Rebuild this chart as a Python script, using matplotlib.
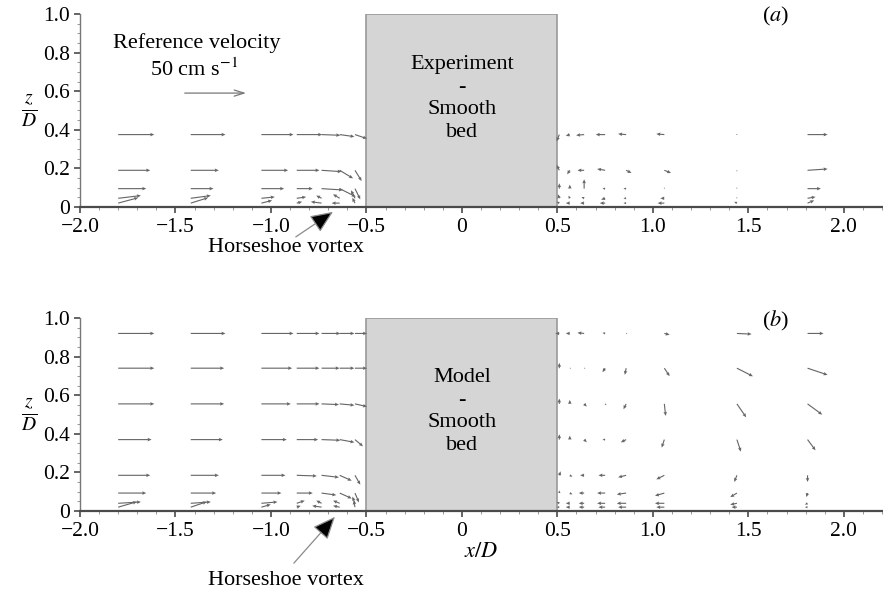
import numpy as np
import matplotlib
matplotlib.use("Agg")
import matplotlib.pyplot as plt
from matplotlib.patches import Rectangle
from matplotlib.ticker import MultipleLocator, FixedLocator, FixedFormatter

plt.rcParams['font.family'] = ['Liberation Serif', 'STIXGeneral', 'DejaVu Serif']
plt.rcParams['mathtext.fontset'] = 'stix'

# measurement columns x/D (upstream and downstream of the pile)
x_cols = [-1.80, -1.42, -1.05, -0.865, -0.735, -0.64, -0.56,
          0.51, 0.565, 0.64, 0.75, 0.86, 1.06, 1.44, 1.81]

# (a) experiment: rows z/D, horizontal (u) and vertical (w) velocity, cm/s
z_exp = [0.375, 0.19, 0.095, 0.045, 0.02]
u_exp = [
    [27, 26, 24, 19, 14, 11, 9, -2, -3, -6, -7, -6, -6, 0, 15],
    [24, 21, 20, 17, 15, 10, 5, -2, -2, -5, -6, 4, 5, 0, 15],
    [21, 17, 17, 12, 16, 12, 4, 0, 0, 0, -2, -2, 0, 0, 10],
    [17, 15, 10, 7, -4, -5, -3, -1, -1, -2, -3, -2, -3, 0, 6],
    [15, 13, 8, 4, -8, -6, -2, -2, -3, -3, -4, -2, -5, -2, 5],
]
w_exp = [
    [0, 0, 0, 0, -0.5, -1.5, -3, -5, -1, -0.5, 0, 0.5, 0.5, 0.5, 0],
    [0, 0, 0, 0, -1, -6, -8, 4, -3, 0, 1, -2, -2, -1, 1],
    [0, 0, 0, 0, -1, -6, -8, 4, 3, 7, 0, 0, 1, 1, 0],
    [2, 2, 1, 1, 2, 3, 6, 3, 2, 1, -1, 0, 0, 1, 1],
    [4, 4, 2, 1, 1, 0, 4, 1, 0, 0, 0, 0, 0, 1, 2],
]

# (b) model
z_mod = [0.92, 0.74, 0.555, 0.37, 0.185, 0.093, 0.04, 0.02]
u_mod = [
    [27, 26, 24, 17, 14, 11, 9, -3, -3, -5, -2, 1, 4, 11, 12],
    [27, 25, 23, 17, 13.5, 11, 9, 0, 1, 1, -2, -1, 4, 12, 15],
    [27, 25, 22, 17, 13, 11, 9, 0, 0, 2, 1, -2, 1, 7, 11],
    [25, 24, 19, 16, 14, 11, 6, 0, 0, 2, -2, -4, -2, 3, 6],
    [24, 21, 18, 15, 13, 9, 4, 1, 2, -3, -5, -6, -6, -2, 0],
    [21, 19, 15, 12, 11, 9, 3, 0, 2, -4, -6, -7, -7, -5, -1],
    [17, 15, 12, 6, -4, -5, -2, -2, -3, -4, -6, -7, -7, -5, -2],
    [14, 12, 7, 3, -7, -5, -1, -2, -3, -4, -5, -6, -6, -4, -2],
]
w_mod = [
    [0, 0, 0, 0, 0, 0, 0, 0, 0, 0.5, 0.5, 0, -1, -0.5, 0],
    [0, 0, 0, 0, 0, 0, 0, 4, 0, 0, -3, -5, -6, -6, -5],
    [0, 0, 0, 0, -0.5, -1, -2, 4, 3, -2, -1, -4, -9, -10, -8],
    [0, 0, 0, 0, -0.5, -2, -5, 4, 3, -2, 0, -2, -6, -9, -8],
    [0, 0, 0, -0.5, -1.5, -4, -7, 3, -1, 0, 0, -1.5, -3, -5, -5],
    [0, 0, 0, 0, -1.5, -4, -7, 2, -1, 0, 0, -1, -2, -3, -3],
    [1, 1, 1, 2, 2, 2, 5, 1, 0, 0, 0, 0, 0, -1, -1],
    [4, 4, 2, 1, 1, 1, 5, 0, 0, 0, 0, 0, 0, 0, 0],
]

ref_speed = 50  # cm/s
ref_len = 0.35  # x/D units drawn for the reference speed
vel_scale = ref_speed / ref_len

xtick_vals = [-2.0, -1.5, -1.0, -0.5, 0, 0.5, 1.0, 1.5, 2.0]
xtick_labels = ['\u22122.0', '\u22121.5', '\u22121.0', '\u22120.5', '0', '0.5', '1.0', '1.5', '2.0']
ytick_vals = [0, 0.2, 0.4, 0.6, 0.8, 1.0]
ytick_labels = ['0', '0.2', '0.4', '0.6', '0.8', '1.0']

fig = plt.figure(figsize=(8.83, 5.89), dpi=100)
ax_a = fig.add_axes([0.0906, 0.6486, 0.9083, 0.3277])
ax_b = fig.add_axes([0.0906, 0.1324, 0.9083, 0.3277])

spine_col = '#4a4a4a'
arrow_col = '#666666'
FS = 16


def setup(ax, zs, us, ws, box_text, tag):
    ax.set_xlim(-2.0, 2.2)
    ax.set_ylim(0, 1.0)
    for s in ['top', 'right']:
        ax.spines[s].set_visible(False)
    ax.spines['bottom'].set_color(spine_col)
    ax.spines['bottom'].set_linewidth(1.6)
    ax.spines['left'].set_color('#777777')
    ax.spines['left'].set_linewidth(1.0)
    ax.xaxis.set_major_locator(FixedLocator(xtick_vals))
    ax.xaxis.set_major_formatter(FixedFormatter(xtick_labels))
    ax.yaxis.set_major_locator(FixedLocator(ytick_vals))
    ax.yaxis.set_major_formatter(FixedFormatter(ytick_labels))
    ax.xaxis.set_minor_locator(MultipleLocator(0.1))
    ax.yaxis.set_minor_locator(MultipleLocator(0.05))
    ax.tick_params(which='major', direction='out', length=4, width=1.2,
                   color=spine_col, labelsize=15.5)
    ax.tick_params(axis='x', which='major', pad=4)
    ax.tick_params(axis='y', which='major', pad=3)
    ax.tick_params(which='minor', direction='out', length=2, width=0.6, color='#888888')

    # the pile
    ax.add_patch(Rectangle((-0.5, 0), 1.0, 1.0, facecolor='#d5d5d5',
                           edgecolor='#9a9a9a', lw=1.2, zorder=1))

    X, Z = np.meshgrid(x_cols, zs)
    ax.quiver(X, Z, np.array(us), np.array(ws), angles='xy', scale_units='x',
              scale=vel_scale, pivot='tail', color=arrow_col, width=0.0014,
              headwidth=3.2, headlength=3.6, headaxislength=3.2, zorder=3)

    ax.text(0, 0.562 if tag == 'a' else 0.516, box_text, ha='center', va='center',
            fontsize=FS, linespacing=1.27, zorder=4)
    ax.text(1.64, 0.985, '($%s$)' % tag, ha='center', va='center', fontsize=FS)

    ax.set_ylabel(r'$\frac{z}{D}$', rotation=0, fontsize=20, va='center')
    ax.yaxis.set_label_coords(-0.063, 0.5)


setup(ax_a, z_exp, u_exp, w_exp, 'Experiment\n-\nSmooth\nbed', 'a')
setup(ax_b, z_mod, u_mod, w_mod, 'Model\n-\nSmooth\nbed', 'b')

# reference velocity arrow
rx0, ry = -1.466, 0.59
ax_a.annotate('', xy=(rx0 + ref_speed / vel_scale, ry), xytext=(rx0, ry),
              arrowprops=dict(arrowstyle='->,head_length=0.7,head_width=0.22',
                              color='#777777', lw=0.9))
ax_a.text(-1.39, 0.85, 'Reference velocity', ha='center', va='center', fontsize=FS)
ax_a.text(-1.40, 0.71, r'50 cm s$^{-1}$', ha='center', va='center', fontsize=FS)

# horseshoe vortex pointers
hs_style = dict(arrowstyle='-|>,head_length=1.4,head_width=0.6',
                ec='#8a8a8a', fc='black', lw=0.9, shrinkA=0, shrinkB=0)
ax_a.annotate('', xy=(-0.675, -0.025), xytext=(-0.87, -0.155),
              arrowprops=hs_style, annotation_clip=False)
ax_a.text(-0.92, -0.21, 'Horseshoe vortex', ha='center', va='center', fontsize=FS)
ax_b.annotate('', xy=(-0.665, -0.03), xytext=(-0.88, -0.27),
              arrowprops=hs_style, annotation_clip=False)
ax_b.text(-0.92, -0.36, 'Horseshoe vortex', ha='center', va='center', fontsize=FS)

ax_b.set_xlabel(r'$x/D$', fontsize=FS, labelpad=1)

fig.savefig('out.png', dpi=100)
